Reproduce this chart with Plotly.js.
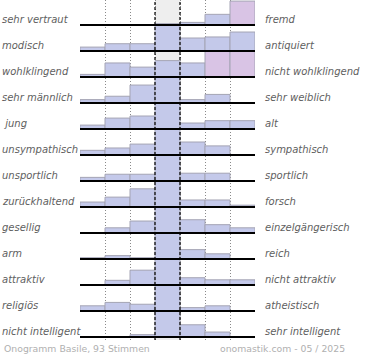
<!DOCTYPE html>
<html>
<head>
<meta charset="utf-8">
<script src="https://cdn.plot.ly/plotly-3.0.1.min.js"></script>
<style>html,body{margin:0;padding:0;background:#fff;}#chart{width:370px;height:360px;}</style>
</head>
<body>
<div id="chart"></div>
<script>
// Left / right adjective pairs (top to bottom)
var leftLabels = ["sehr vertraut","modisch","wohlklingend","sehr männlich","\u00a0jung","unsympathisch","unsportlich","zurückhaltend","gesellig","arm","attraktiv","religiös","nicht intelligent"];
var rightLabels = ["fremd","antiquiert","nicht wohlklingend","sehr weiblich","alt","sympathisch","sportlich","forsch","einzelgängerisch","reich","nicht attraktiv","atheistisch","sehr intelligent"];
// Bar heights per row (7 scale steps), in percent of the row height (values >100 clipped)
var r01 = [0,0,0,5,10,41,92];
var r02 = [15,28,28,100,50,54,73];
var r03 = [10,54,38,63,54,100,100];
var r04 = [13,26,69,100,13,33,0];
var r05 = [15,42,50,100,23,32,32];
var r06 = [18,27,42,100,50,35,0];
var r07 = [14,26,26,100,30,30,0];
var r08 = [19,38,70,100,27,27,7];
var r09 = [0,20,46,100,51,32,20];
var r10 = [5,13,5,100,36,20,0];
var r11 = [0,18,57,100,28,20,20];
var r12 = [20,33,26,100,13,20,0];
var r13 = [0,0,9,100,47,19,0];
var rows = [r01,r02,r03,r04,r05,r06,r07,r08,r09,r10,r11,r12,r13];
var steps = [0,1,2,3,4,5,6];
var footerLeft = "Onogramm Basile, 93 Stimmen";
var footerRight = "onomastik.com - 05 / 2025";

var n = rows.length;
var xs = [], ys = [], bases = [], cols = [];
rows.forEach(function(r, i){
  var b = (n - 1 - i);
  r.forEach(function(v, j){
    if (v <= 0) return;
    xs.push(steps[j]);
    ys.push(Math.min(v, 100) / 100);
    bases.push(b);
    cols.push((v >= 90 && j !== 3) ? '#d9c4e5' : '#c4c9ea');
  });
});

var traces = [{
  type: 'bar', x: xs, y: ys, base: bases, width: 1,
  marker: {color: cols, line: {color: '#a4a4b4', width: 1}},
  hoverinfo: 'none', showlegend: false
}];

var shapes = [];
// grey center column
shapes.push({type:'rect', xref:'x', yref:'paper', x0:2.5, x1:3.5, y0:0, y1:1, fillcolor:'#eeeeee', line:{width:0}, layer:'below'});
// dashed center boundaries
[2.5, 3.5].forEach(function(x){
  shapes.push({type:'line', xref:'x', yref:'paper', x0:x, x1:x, y0:0, y1:1, line:{color:'#000', width:1.2, dash:'3px,2px'}, layer:'above'});
});
var labelFont = {family:'DejaVu Sans', size:10, color:'#606060', style:'italic'};
var annotations = [];
rows.forEach(function(r, i){
  var b = (n - 1 - i);
  shapes.push({type:'line', xref:'paper', yref:'y', x0:0, x1:1, y0:b, y1:b, line:{color:'#000', width:2}, layer:'above'});
  annotations.push({xref:'paper', yref:'y', x:-80/175, y:b + 5.5/26, xanchor:'left', yanchor:'middle', text:'<i>' + leftLabels[i] + '</i>', showarrow:false, font:labelFont});
  annotations.push({xref:'paper', yref:'y', x:(263-80)/175, y:b + 5.5/26, xanchor:'left', yanchor:'middle', text:'<i>' + rightLabels[i] + '</i>', showarrow:false, font:labelFont});
});
annotations.push({xref:'paper', yref:'paper', x:-78/175, y:(340-348)/340, xanchor:'left', yanchor:'middle', text:footerLeft, showarrow:false, font:{family:'DejaVu Sans', size:9.3, color:'#b0b0b0'}});
annotations.push({xref:'paper', yref:'paper', x:(347-80)/175, y:(340-348)/340, xanchor:'right', yanchor:'middle', text:footerRight, showarrow:false, font:{family:'DejaVu Sans', size:9.3, color:'#b0b0b0'}});

var layout = {
  width: 370, height: 360,
  margin: {l:80, r:115, t:0, b:20},
  paper_bgcolor: '#fff', plot_bgcolor: 'rgba(0,0,0,0)',
  bargap: 0,
  xaxis: {range:[-0.5, 6.5], tickvals:[-0.5,0.5,1.5,2.5,3.5,4.5,5.5,6.5], showticklabels:false, ticks:'', showgrid:true, gridcolor:'#8a8a8a', griddash:'1px,2px', gridwidth:1, zeroline:false, showline:false, fixedrange:true},
  yaxis: {range:[-3/26, 337/26], showgrid:false, showticklabels:false, ticks:'', zeroline:false, showline:false, fixedrange:true},
  shapes: shapes,
  annotations: annotations
};
Plotly.newPlot('chart', traces, layout, {displayModeBar:false, staticPlot:true});
</script>
</body>
</html>
